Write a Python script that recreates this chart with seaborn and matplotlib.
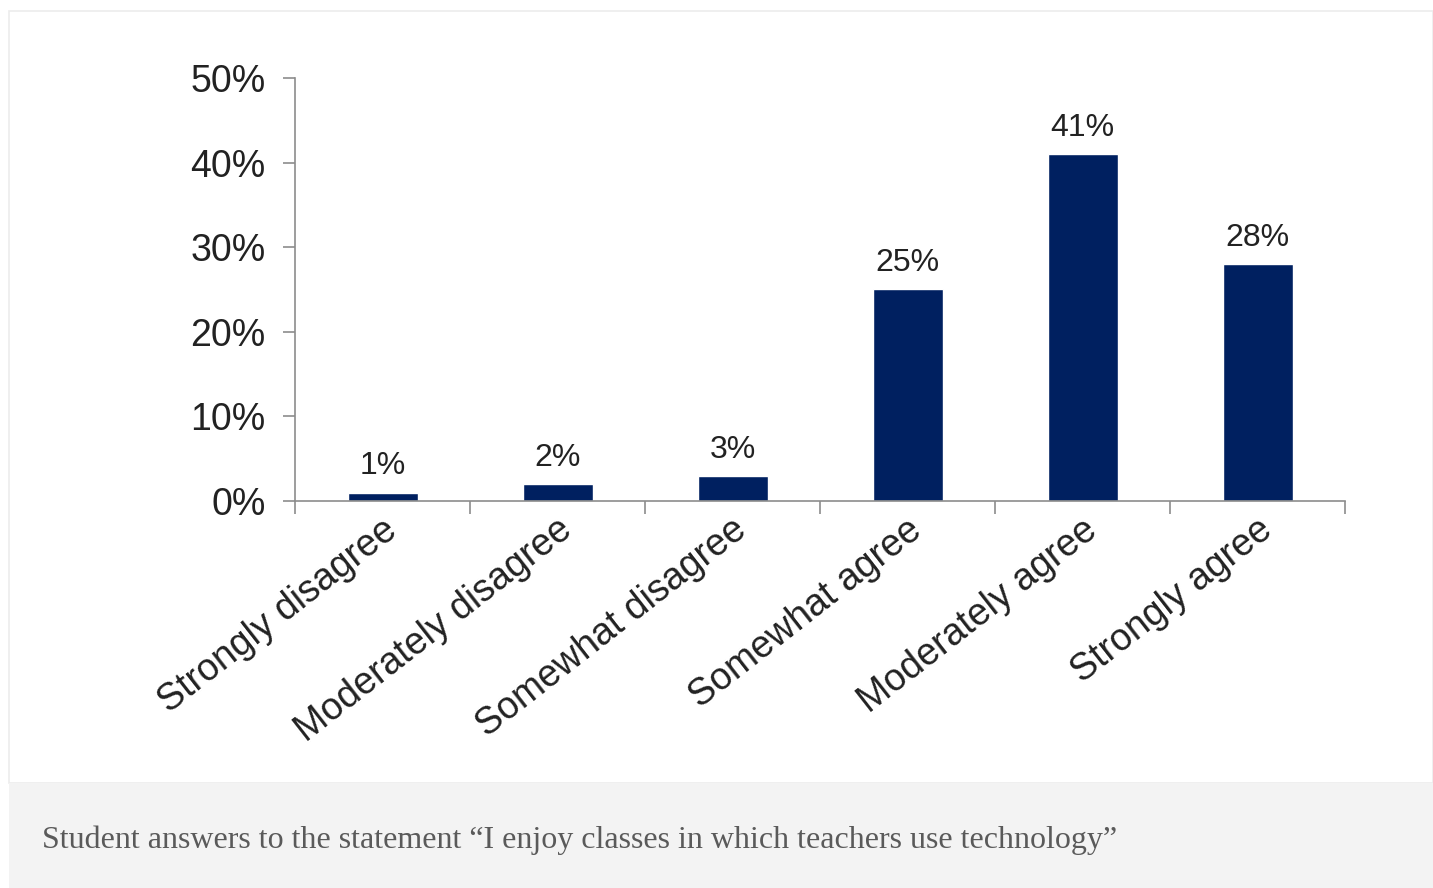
import pandas as pd
import seaborn as sns
import matplotlib.pyplot as plt
from matplotlib.patches import Rectangle
from matplotlib.transforms import ScaledTranslation

answers = ["Strongly disagree", "Moderately disagree", "Somewhat disagree",
           "Somewhat agree", "Moderately agree", "Strongly agree"]
share = [1, 2, 3, 25, 41, 28]
y_ticks = [0, 10, 20, 30, 40, 50]
caption = "Student answers to the statement \u201cI enjoy classes in which teachers use technology\u201d"

df = pd.DataFrame({"answer": answers, "share": share})

sns.set_style("white")
plt.rcParams["font.family"] = ["Liberation Sans", "DejaVu Sans"]

fig = plt.figure(figsize=(14.33, 8.88), dpi=100)
W, H = 1433, 888

# card frame and caption box, kept behind the axes
fig.patches.append(Rectangle((9 / W, 105 / H), 1 - 9 / W, 1 - 11 / H - 105 / H,
                             transform=fig.transFigure, facecolor="white",
                             edgecolor="#ececec", linewidth=1.2, zorder=-2))
fig.patches.append(Rectangle((9 / W, 0), 1 - 9 / W, 105 / H,
                             transform=fig.transFigure, facecolor="#f3f3f3",
                             edgecolor="none", zorder=-2))
fig.text(42 / W, 48 / H, caption, family="Liberation Serif", fontsize=23,
         color="#5a5a5a", va="center", ha="left")

ax = fig.add_axes([295 / W, 1 - 501 / H, (1345 - 295) / W, (501 - 78) / H])
ax.set_facecolor("none")
sns.barplot(data=df, x="answer", y="share", color="#002060", width=0.4,
            saturation=1, ax=ax)

ax.set_xlim(-0.5, len(answers) - 0.5)
ax.set_ylim(0, 50)
ax.set_yticks(y_ticks)
ax.set_yticklabels([f"{v}%" for v in y_ticks], fontsize=27, color="#222222")

ax.set_xticks(range(len(answers)))
ax.set_xticklabels(answers, rotation=38, ha="right", rotation_mode="anchor",
                   fontsize=27, color="#222222")
ax.set_xticks([i - 0.5 for i in range(len(answers) + 1)], minor=True)
ax.tick_params(axis="x", which="major", length=0, pad=18, bottom=False)
ax.tick_params(axis="x", which="minor", length=9, color="#8c8c8c", width=1.2,
               bottom=True)
ax.tick_params(axis="y", length=9, color="#8c8c8c", width=1.2, pad=12,
               left=True)

shift = ScaledTranslation(10 / 100, 0, fig.dpi_scale_trans)
for lbl in ax.get_xticklabels():
    lbl.set_verticalalignment("center")
    lbl.set_transform(lbl.get_transform() + shift)

ax.bar_label(ax.containers[0], labels=[f"{v}%" for v in share], padding=8,
             fontsize=23, color="#222222")

ax.set_xlabel("")
ax.set_ylabel("")
sns.despine(ax=ax)
for s in ["left", "bottom"]:
    ax.spines[s].set_color("#8c8c8c")
    ax.spines[s].set_linewidth(1.2)

fig.savefig("out.png", dpi=100)
